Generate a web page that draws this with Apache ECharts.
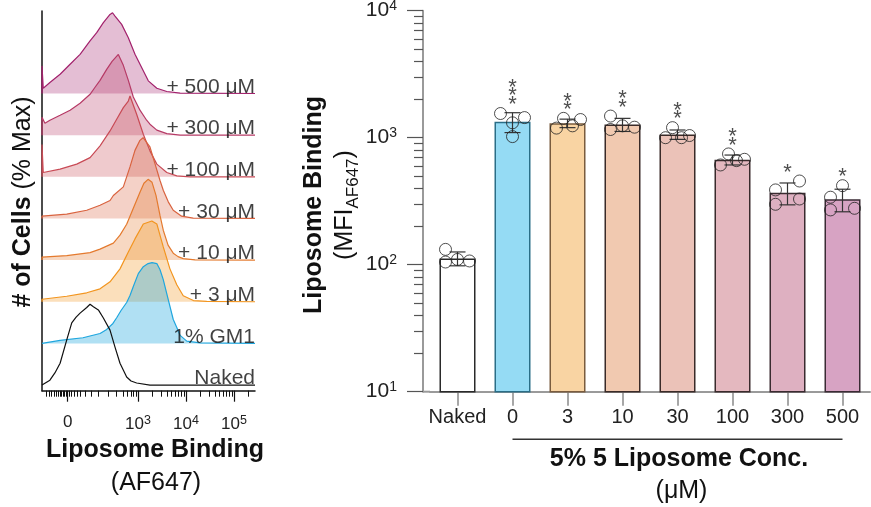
<!DOCTYPE html>
<html>
<head>
<meta charset="utf-8">
<title>Liposome binding</title>
<script src="https://cdn.jsdelivr.net/npm/echarts@6.0.0/dist/echarts.min.js"></script>
<style>
html, body { margin: 0; padding: 0; background: #ffffff; }
#chart { width: 871px; height: 507px; }
</style>
</head>
<body>
<div id="chart"></div>
<script>
// ---------- Flow cytometry overlay (left): [display channel, % of max] ----------
const histNaked = [[0,0],[38,6],[62,15],[87,27],[119,56],[143,77],[164,84],[183,89],[215,96],[231,100],[247,97],[271,93],[295,83],[327,68],[351,47],[375,27],[407,10],[428,5],[455,2.5],[519,0],[1024,0]];
const histGM1 = [[0,0],[0,1.9],[87,3.7],[197,7],[279,12.3],[311,17.3],[341,24.7],[359,31.7],[380,40.7],[407,50.6],[423,59.3],[439,70.4],[463,86.4],[487,95],[510,98.8],[529,100],[552,98.8],[567,91.4],[583,79],[607,54.3],[631,29.6],[648,19.8],[664,9.9],[696,2.8],[760,0.6],[1024,0]];
const hist3 = [[0,0],[0,3.1],[119,6.8],[215,11.1],[279,16],[327,24.7],[375,40.7],[415,61.7],[447,77.8],[487,96.3],[528,100],[552,96.3],[583,67.9],[615,40.7],[648,21],[679,7.4],[728,1.5],[792,0.5],[1024,0]];
const hist10 = [[0,0],[0,3.7],[119,5.6],[231,9.3],[279,13.6],[343,21],[375,30.9],[407,44.4],[439,64.2],[471,84],[490,95.1],[510,100],[529,96.3],[548,80.2],[567,55.6],[583,37],[606,18.5],[631,8.6],[654,4.3],[679,1.9],[736,0.4],[1024,0]];
const hist30 = [[0,0],[0,2.8],[119,5.3],[215,10.2],[279,16.4],[327,22.2],[343,28.4],[391,39.1],[423,63.8],[447,84.3],[471,96.7],[486,100],[495,98.8],[519,88.5],[543,67.9],[567,47.3],[583,34.9],[607,20.6],[631,10.2],[671,2.8],[727,0.4],[1024,0]];
const hist100 = [[0,0],[0,40],[6,5.3],[87,9.5],[167,15.7],[231,23.8],[279,38.3],[327,56.8],[359,71.2],[391,85.6],[415,93.8],[423,100],[455,77.4],[487,52.7],[519,32.1],[552,15.7],[600,5.3],[648,1.2],[712,0],[1024,0]];
const hist300 = [[0,0],[0,22.2],[14,14.8],[38,18.5],[87,24.7],[135,30.9],[183,39.5],[231,50.6],[255,59.3],[279,67.9],[311,81.5],[337,91.4],[367,100],[391,86.4],[415,67.9],[439,47.3],[471,30.9],[503,18.5],[519,13.6],[552,6.2],[600,1.9],[664,0],[1024,0]];
const hist500 = [[0,0],[0,34.2],[6,6.5],[38,13.6],[87,23.8],[135,36.2],[183,48.5],[231,65.1],[263,75.3],[295,87.7],[327,97.9],[339,100],[351,95.9],[383,85.6],[415,69.1],[447,48.5],[479,32.1],[511,15.7],[552,6.5],[600,2.5],[664,0.4],[1024,0]];
const histNames = ['Naked', '1% GM1', '+ 3 μM', '+ 10 μM', '+ 30 μM', '+ 100 μM', '+ 300 μM', '+ 500 μM'];

// AF647 display-scale ticks (channels)
const flowLabelChannels = [123.6, 461.5, 692.3, 923.1];
const flowLabelTexts = ['0', '10{s|3}', '10{s|4}', '10{s|5}'];
const flowNearZeroTicks = [19, 34, 46, 58, 67, 77, 87, 94, 101, 108, 115, 132, 142, 154, 168, 185, 207, 236];
const flowLowDecadeTicks = [271, 319, 359, 391, 410, 427, 439, 451];

// ---------- MFI bar chart (right) ----------
const categories = ['Naked', '0', '3', '10', '30', '100', '300', '500'];
const meanMFI = [112, 1335, 1300, 1270, 1060, 670, 368, 327];
const sdMFI = [14, 238, 100, 150, 90, 60, 72, 66];
const rep1 = [132, 1550, 1190, 1480, 1200, 745, 456, 419];
const rep2 = [105, 1310, 1420, 1160, 1000, 610, 388, 340];
const rep3 = [110, 1440, 1240, 1240, 1000, 660, 329, 270];
const rep4 = [107, 1020, 1390, 1210, 1040, 676, 299, 278];
const significance = ['', '***', '**', '**', '**', '**', '*', '*'];
const logTicks = [10, 100, 1000, 10000];

// ---------- layout & style ----------
const FONT = '"Liberation Sans", Arial, Helvetica, sans-serif';
const GRID_L = { left: 42, top: 11, width: 213, height: 379.7 };
const GRID_R = { left: 430, top: 10.7, width: 440, height: 381 };
const Y_GAP = 7;
const STACK_BASE = 7, STACK_STEP = 51.55, STACK_MAX = 470;
const histLine = ['#111111', '#1fa6de', '#f2951f', '#e47a2e', '#d9633f', '#c84a55', '#b63a66', '#a2216c'];
const histFillAlpha = [0, 0.5, 0.43, 0.42, 0.42, 0.42, 0.42, 0.42];
const barFill = ['#ffffff', '#95dbf4', '#f9d4a3', '#f1c9b0', '#ebc2b8', '#e4b8bf', '#deb0c1', '#d7a3c3'];
const barEdge = ['#2a2a2a', '#2a6e87', '#7a5c3e', '#3a2b28', '#3a2b28', '#3a2b2c', '#3a2b30', '#3a2b34'];
const pointJitter = [[-12,-12,0,12],[-12,0,12,0],[-11,-4,5,13],[-12,-12,0,12],[-5,-12,4,12],[-4,-12,4,12],[12,-12,12,-12],[0,-12,-12,12]];

function rgba(hex, a) {
  const n = parseInt(hex.slice(1), 16);
  return 'rgba(' + (n >> 16 & 255) + ',' + (n >> 8 & 255) + ',' + (n & 255) + ',' + a + ')';
}

// log-decade minor ticks on the display scale (10^3..10^5) plus near-zero/low ticks
const flowDecadeTicks = [];
[461.5, 692.3, 923.1].forEach(function (d0) {
  for (let k = 2; k <= 9; k++) {
    const c = d0 + 230.8 * Math.log10(k);
    if (c <= 1024) flowDecadeTicks.push(c);
  }
});
const flowMinorTicks = flowNearZeroTicks.concat(flowLowDecadeTicks, flowDecadeTicks);

const minorLogTicks = [];
[10, 100, 1000].forEach(function (d) { for (let k = 2; k <= 9; k++) minorLogTicks.push(d * k); });

const histSets = [histNaked, histGM1, hist3, hist10, hist30, hist100, hist300, hist500];

const series = [];
for (let k = histSets.length - 1; k >= 0; k--) {
  const off = STACK_BASE + STACK_STEP * k;
  const s = {
    type: 'line', xAxisIndex: 0, yAxisIndex: 0, symbol: 'none', showSymbol: false, silent: true,
    data: histSets[k].map(function (p) { return [p[0], off + p[1]]; }),
    lineStyle: { color: histLine[k], width: 1.2 },
    z: 2
  };
  if (histFillAlpha[k]) s.areaStyle = { color: rgba(histLine[k], histFillAlpha[k]), origin: off };
  series.push(s);
}

// sample labels at the right end of each baseline
series.push({
  type: 'scatter', xAxisIndex: 0, yAxisIndex: 0, symbolSize: 0, silent: true, z: 6,
  data: histNames.map(function (n, k) { return { value: [1024, STACK_BASE + STACK_STEP * k], name: n }; }),
  label: {
    show: true, formatter: function (p) { return p.name; },
    position: [0, 0], align: 'right', verticalAlign: 'bottom', offset: [0, 4],
    fontSize: 21, color: '#111', fontFamily: FONT
  }
});

// bars
series.push({
  type: 'bar', xAxisIndex: 2, yAxisIndex: 1, barWidth: 36, silent: true, z: 2,
  data: meanMFI.map(function (v, i) {
    return { value: v, itemStyle: { color: barFill[i], borderColor: barEdge[i], borderWidth: 1.5 } };
  })
});

// mean ± SD
series.push({
  type: 'custom', xAxisIndex: 2, yAxisIndex: 1, silent: true, z: 3,
  data: meanMFI.map(function (v, i) { return [i, v, sdMFI[i]]; }),
  renderItem: function (params, api) {
    const i = api.value(0), m = api.value(1), s = api.value(2);
    const top = api.coord([i, m + s]);
    const bot = api.coord([i, m - s]);
    const hw = 8;
    const st = { stroke: '#333', lineWidth: 1.2 };
    return {
      type: 'group', children: [
        { type: 'line', shape: { x1: top[0], y1: top[1], x2: bot[0], y2: bot[1] }, style: st },
        { type: 'line', shape: { x1: top[0] - hw, y1: top[1], x2: top[0] + hw, y2: top[1] }, style: st },
        { type: 'line', shape: { x1: bot[0] - hw, y1: bot[1], x2: bot[0] + hw, y2: bot[1] }, style: st }
      ]
    };
  }
});

// individual replicates
const reps = [rep1, rep2, rep3, rep4];
const pointData = [];
categories.forEach(function (c, i) {
  reps.forEach(function (r, j) {
    pointData.push({ value: [i, r[i]], symbolOffset: [pointJitter[i][j], 0] });
  });
});
series.push({
  type: 'scatter', xAxisIndex: 2, yAxisIndex: 1, symbol: 'circle', symbolSize: 12, silent: true, z: 4,
  itemStyle: { color: 'rgba(0,0,0,0)', borderColor: '#222', borderWidth: 1 },
  data: pointData
});

// significance marks above each group
const starData = [];
categories.forEach(function (c, i) {
  if (!significance[i]) return;
  const top = Math.max(rep1[i], rep2[i], rep3[i], rep4[i], meanMFI[i] + sdMFI[i]);
  starData.push({ value: [i, top], name: significance[i] });
});
series.push({
  type: 'scatter', xAxisIndex: 2, yAxisIndex: 1, symbolSize: 0, silent: true, z: 5,
  data: starData,
  label: {
    show: true, position: 'top', distance: 4,
    formatter: function (p) { return p.name.split('').join('\n'); },
    fontSize: 22, lineHeight: 8.5, color: '#222', fontFamily: FONT
  }
});

const chart = echarts.init(document.getElementById('chart'), null, { renderer: 'canvas' });
chart.setOption({
  animation: false,
  backgroundColor: '#ffffff',
  textStyle: { fontFamily: FONT },
  grid: [
    Object.assign({ outerBoundsMode: 'none', containLabel: false }, GRID_L),
    Object.assign({ outerBoundsMode: 'none', containLabel: false }, GRID_R)
  ],
  xAxis: [
    {
      gridIndex: 0, type: 'value', position: 'bottom', min: 0, max: 1024,
      axisLine: { show: true, onZero: false, lineStyle: { color: '#111', width: 1.5 } },
      splitLine: { show: false },
      axisTick: { show: true, length: 11, customValues: flowLabelChannels, lineStyle: { color: '#111', width: 1.2 } },
      axisLabel: {
        show: true, customValues: flowLabelChannels, margin: 23, fontSize: 17, color: '#222', fontFamily: FONT,
        formatter: function (v) {
          let best = 0;
          flowLabelChannels.forEach(function (c, i) { if (Math.abs(c - v) < Math.abs(flowLabelChannels[best] - v)) best = i; });
          return flowLabelTexts[best];
        },
        rich: { s: { fontSize: 12.5, padding: [0, 0, 8, 0], color: '#222', fontFamily: FONT } }
      }
    },
    {
      gridIndex: 0, type: 'value', position: 'bottom', min: 0, max: 1024,
      axisLine: { show: false }, splitLine: { show: false }, axisLabel: { show: false },
      axisTick: { show: true, length: 6, customValues: flowMinorTicks, lineStyle: { color: '#111', width: 1 } }
    },
    {
      gridIndex: 1, type: 'category', position: 'bottom', data: categories,
      axisLine: { show: true, onZero: false, lineStyle: { color: '#9a9a9a', width: 2 } },
      axisTick: { show: true, alignWithLabel: true, interval: 0, length: 14, lineStyle: { color: '#8a8a8a', width: 1.5 } },
      axisLabel: { interval: 0, margin: 16, fontSize: 20, color: '#222', fontFamily: FONT },
      splitLine: { show: false }
    }
  ],
  yAxis: [
    {
      gridIndex: 0, type: 'value', min: 0, max: STACK_MAX,
      axisLine: { show: true, onZero: false, lineStyle: { color: '#111', width: 1.5 } },
      axisTick: { show: false }, axisLabel: { show: false }, splitLine: { show: false }
    },
    {
      gridIndex: 1, type: 'log', logBase: 10, min: 10, max: 10000, position: 'left', offset: Y_GAP,
      axisLine: { show: true, onZero: false, lineStyle: { color: '#9a9a9a', width: 2 } },
      axisTick: { show: true, length: 16, customValues: logTicks, lineStyle: { color: '#555', width: 1.2 } },
      axisLabel: {
        customValues: logTicks, margin: 26, fontSize: 21, color: '#222', fontFamily: FONT,
        formatter: function (v) { return '10{s|' + Math.round(Math.log10(v)) + '}'; },
        rich: { s: { fontSize: 14, padding: [0, 0, 10, 0], color: '#222', fontFamily: FONT } }
      },
      splitLine: { show: false }
    },
    {
      gridIndex: 1, type: 'log', logBase: 10, min: 10, max: 10000, position: 'left', offset: Y_GAP,
      axisLine: { show: false }, axisLabel: { show: false }, splitLine: { show: false },
      axisTick: { show: true, length: 9, customValues: minorLogTicks, lineStyle: { color: '#555', width: 1.2 } }
    }
  ],
  series: series
});

// titles, bracket and axis join
const axisY = GRID_R.top + GRID_R.height;
const bx1 = chart.convertToPixel({ xAxisIndex: 2 }, 1);
const bx2 = chart.convertToPixel({ xAxisIndex: 2 }, categories.length - 1);

function label(x, y, text, rich, rotation) {
  return {
    type: 'text', x: x, y: y, rotation: rotation || 0, silent: true, z: 10,
    style: {
      text: text, fill: '#111', fontSize: 25, fontFamily: FONT,
      align: 'center', verticalAlign: 'middle', textAlign: 'center', textVerticalAlign: 'middle',
      rich: rich
    }
  };
}
const richTitle = {
  b: { fontSize: 25, fontWeight: 'bold', fontFamily: FONT, fill: '#111', color: '#111' },
  r: { fontSize: 25, fontFamily: FONT, fill: '#111', color: '#111' },
  sub: { fontSize: 17, fontFamily: FONT, fill: '#111', color: '#111', padding: [16, 0, 0, 0] }
};

chart.setOption({
  graphic: [
    { type: 'line', silent: true, shape: { x1: GRID_R.left - Y_GAP, y1: axisY, x2: GRID_R.left, y2: axisY }, style: { stroke: '#9a9a9a', lineWidth: 2 } },
    { type: 'line', silent: true, shape: { x1: bx1, y1: axisY + 47.5, x2: bx2, y2: axisY + 47.5 }, style: { stroke: '#333', lineWidth: 1.5 } },
    label(23, 202, '{b|# of Cells} {r|(% Max)}', richTitle, Math.PI / 2),
    label(155, 450.5, '{b|Liposome Binding}', richTitle),
    label(156, 483, '{r|(AF647)}', richTitle),
    label(314, 205, '{b|Liposome Binding}', richTitle, Math.PI / 2),
    label(345, 205, '{r|(MFI}{sub|AF647}{r|)}', richTitle, Math.PI / 2),
    label(679, 458.7, '{b|5% 5 Liposome Conc.}', richTitle),
    label(681.5, 491, '{r|(μM)}', richTitle)
  ]
});
</script>
</body>
</html>
